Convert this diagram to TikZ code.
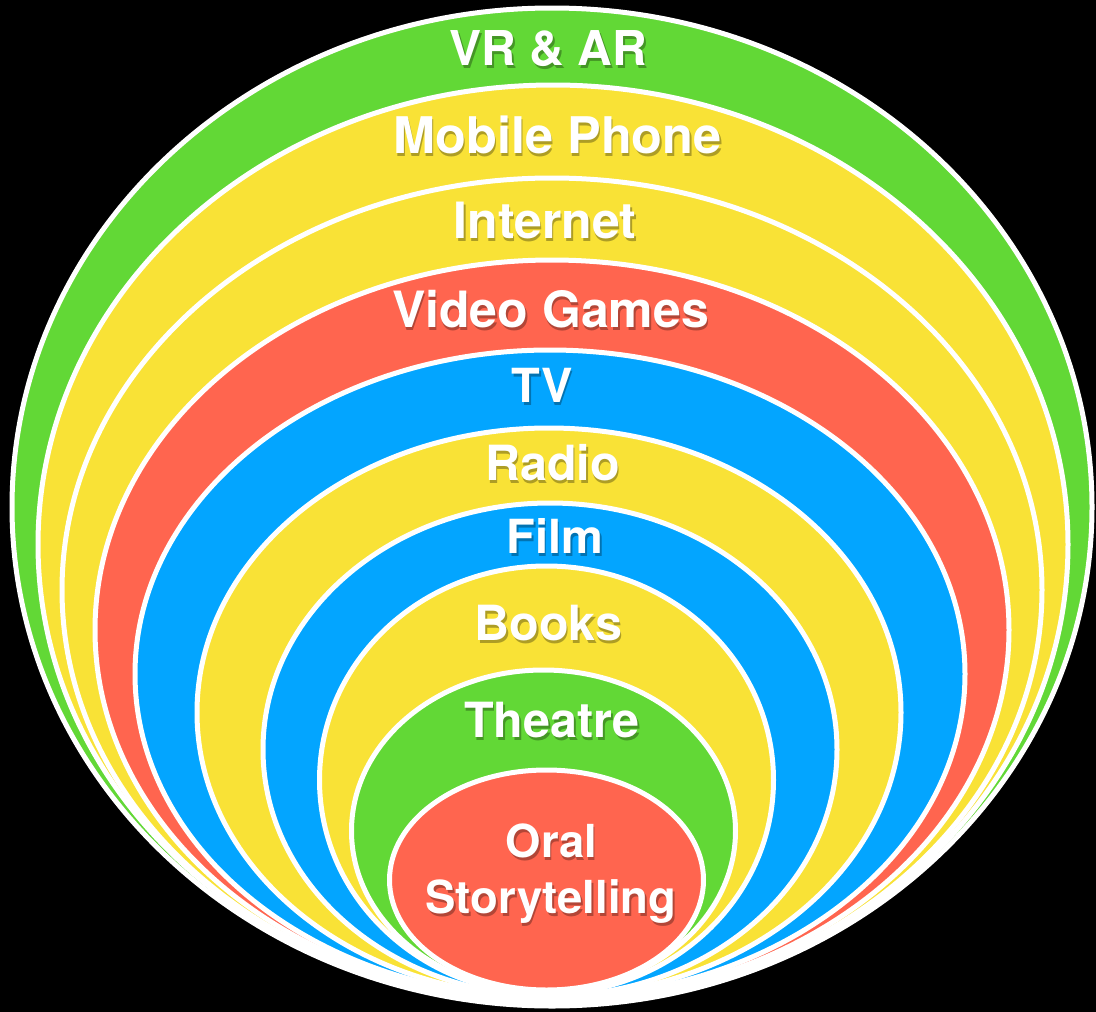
\documentclass[tikz,border=0pt]{standalone}
\usepackage{fontspec}
\newfontfamily\labfont{TeX Gyre Heros}
\definecolor{cgreen}{HTML}{62D836}
\definecolor{cyellow}{HTML}{F9E236}
\definecolor{cred}{HTML}{FF654F}
\definecolor{cblue}{HTML}{03A5FF}
\tikzset{
  ring/.style={draw=white, line width=5pt},
  labtext/.style={inner sep=0pt, anchor=base, text=white},
  labshadow/.style={inner sep=0pt, anchor=base, text=black, text opacity=0.3},
}
\newcommand\lbl[5]{%
  \node[labshadow, font={\labfont\bfseries\fontsize{#4}{#4}\selectfont}] (#1s) at (#2+1.5,#3+3) {#5};
  \node[labtext, font={\labfont\bfseries\fontsize{#4}{#4}\selectfont}] (#1) at (#2,#3) {#5};
}
\begin{document}
\begin{tikzpicture}[x=1pt,y=-1pt]
\fill[black] (0,0) rectangle (1096,1012);
\useasboundingbox (0,0) rectangle (1096,1012);
% nested ellipses, outermost first
\filldraw[ring, fill=cgreen]  (552,507)   ellipse [x radius=540pt, y radius=499pt];
\filldraw[ring, fill=cyellow] (553,544.5) ellipse [x radius=515pt, y radius=459.5pt];
\filldraw[ring, fill=cyellow] (552,590)   ellipse [x radius=490pt, y radius=412pt];
\filldraw[ring, fill=cred]    (552,630)   ellipse [x radius=457pt, y radius=370pt];
\filldraw[ring, fill=cblue]   (550,674)   ellipse [x radius=415pt, y radius=324pt];
\filldraw[ring, fill=cyellow] (549,712.5) ellipse [x radius=352pt, y radius=284.5pt];
\filldraw[ring, fill=cblue]   (550,749.5) ellipse [x radius=287pt, y radius=246.5pt];
\filldraw[ring, fill=cyellow] (546.5,780) ellipse [x radius=227pt, y radius=214pt];
\filldraw[ring, fill=cgreen]  (543.5,831) ellipse [x radius=192pt, y radius=161pt];
\filldraw[ring, fill=cred]    (546.5,880) ellipse [x radius=157pt, y radius=110pt];
% labels
\lbl{vr}{548.5}{65}{48}{VR \& AR}
\lbl{mobile}{557.5}{153}{50.5}{Mobile Phone}
\lbl{internet}{545}{238}{50}{Internet}
\lbl{video}{550.5}{327}{50}{Video Games}
\lbl{tv}{542}{402}{47}{TV}
\lbl{radio}{552.5}{480}{48.5}{Radio}
\lbl{film}{555}{553}{47}{Film}
\lbl{books}{548.5}{640}{48.5}{Books}
\lbl{theatre}{552}{737}{48.5}{Theatre}
\lbl{oral}{551.5}{857}{45.5}{Oral}
\lbl{story}{551}{913}{45.5}{Storytelling}
\end{tikzpicture}
\end{document}
